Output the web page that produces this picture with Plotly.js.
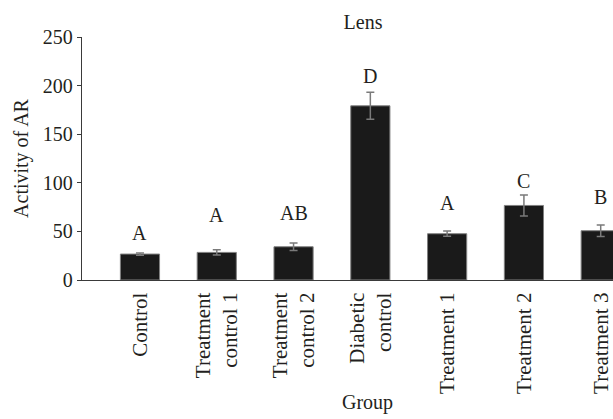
<!DOCTYPE html>
<html>
<head>
<meta charset="utf-8">
<script src="https://cdn.plot.ly/plotly-3.0.1.min.js"></script>
<style>html,body{margin:0;padding:0;background:#fff}#chart{width:613px;height:419px}</style>
</head>
<body>
<div id="chart"></div>
<script>
var categories = ["Control", "Treatment<br>control 1", "Treatment<br>control 2", "Diabetic<br>control", "Treatment 1", "Treatment 2", "Treatment 3"];
var activity = [26.7, 28.4, 34.2, 179.2, 47.6, 76.7, 50.7];
var errors = [1.2, 2.6, 3.9, 13.9, 2.7, 10.8, 6.0];
var letters = ["A", "A", "AB", "D", "A", "C", "B"];
var letterLevel = [48.6, 66.8, 68.5, 209.7, 79.4, 101.7, 85.6];
var yTicks = [0, 50, 100, 150, 200, 250];

var font = {family: "Liberation Serif, Times New Roman, serif", size: 20, color: "#231f20"};
var xfont = {family: "Liberation Serif, Times New Roman, serif", size: 21, color: "#231f20"};
var idx = categories.map(function(c, i){ return i; });

var trace = {
  type: "bar",
  x: idx,
  y: activity,
  width: 0.51,
  marker: {color: "#1a1a1a", line: {color: "#808080", width: 1}},
  error_y: {type: "data", array: errors, visible: true, color: "#7a7a7a", thickness: 1.5, width: 4},
  hoverinfo: "none"
};

var annotations = letters.map(function(t, i){
  return {x: i, y: letterLevel[i], xref: "x", yref: "y", text: t, showarrow: false,
          xanchor: "center", yanchor: "middle", font: font};
});
annotations.push({x: 0.537, y: -0.558, xref: "paper", yref: "paper", text: "Group",
  showarrow: false, xanchor: "center", yanchor: "bottom", font: font});

var layout = {
  width: 613, height: 419,
  margin: {l: 82, r: 0, t: 37, b: 139},
  paper_bgcolor: "#fff", plot_bgcolor: "#fff",
  showlegend: false,
  font: font,
  title: {text: "Lens", x: 363/613, xanchor: "center", xref: "container",
          y: 1 - 22/419, yanchor: "middle", yref: "container", font: font},
  xaxis: {
    range: [-0.755, 6.16], tickmode: "array", tickvals: idx, ticktext: categories,
    tickangle: -90, showgrid: false, zeroline: false, showline: true,
    linecolor: "#3a3a3a", linewidth: 1.2, ticks: "", tickfont: xfont, fixedrange: true,
    ticklabelstandoff: 3
  },
  yaxis: {
    range: [0, 250], tickmode: "array", tickvals: yTicks, showgrid: false, zeroline: false,
    showline: true, linecolor: "#3a3a3a", linewidth: 1.2, ticks: "outside", ticklen: 4,
    tickcolor: "#3a3a3a", tickfont: font,
    title: {text: "Activity of AR", font: font, standoff: 8}
  },
  annotations: annotations
};

Plotly.newPlot("chart", [trace], layout, {displayModeBar: false, staticPlot: true});
</script>
</body>
</html>
